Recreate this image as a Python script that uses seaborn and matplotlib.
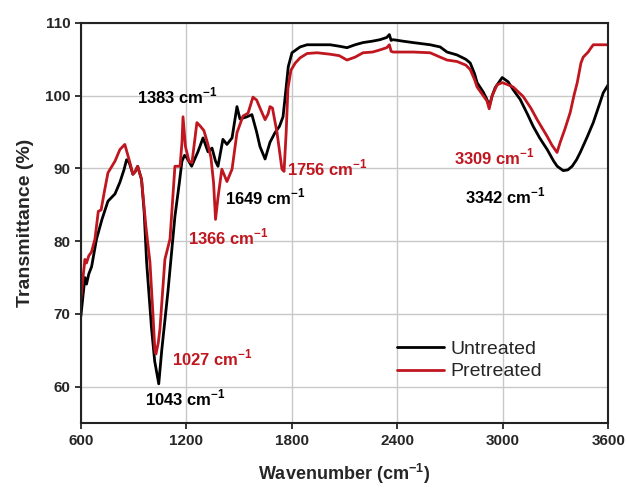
import matplotlib
matplotlib.use("Agg")
import matplotlib.pyplot as plt
import seaborn as sns
import pandas as pd

# Untreated spectrum (wavenumber cm-1, transmittance %)
wn_untreated = [600, 612, 623, 632, 645, 661, 689, 720, 754, 794, 822, 845, 860, 875, 896, 910, 923,
                945, 960, 974, 1002, 1020, 1043, 1060, 1095, 1135, 1160, 1175, 1190, 1202, 1230, 1266,
                1295, 1323, 1346, 1366, 1380, 1408, 1431, 1460, 1488, 1505, 1545, 1573, 1600, 1619,
                1648, 1676, 1704, 1730, 1750, 1765, 1780, 1801, 1847, 1887, 1944, 2018, 2070, 2114,
                2160, 2205, 2260, 2302, 2340, 2355, 2365, 2376, 2430, 2490, 2587, 2644, 2683, 2740,
                2790, 2815, 2840, 2854, 2889, 2910, 2923, 2940, 2957, 2997, 3031, 3060, 3099, 3140,
                3173, 3210, 3253, 3290, 3310, 3344, 3370, 3395, 3420, 3441, 3480, 3515, 3550, 3572, 3600]
t_untreated = [69.7, 72.5, 75.0, 74.1, 75.5, 76.5, 80.3, 83.0, 85.5, 86.5, 88.1, 89.8, 91.2, 90.8,
               89.2, 89.6, 90.3, 88.5, 84.0, 77.1, 68.0, 63.5, 60.4, 65.0, 73.0, 83.4, 88.0, 91.0,
               91.8, 91.5, 90.3, 92.3, 94.2, 92.3, 92.8, 91.0, 90.3, 94.0, 93.3, 94.2, 98.5, 96.8,
               97.1, 97.4, 95.0, 93.0, 91.3, 93.6, 94.9, 95.8, 97.1, 100.5, 104.0, 105.9, 106.7,
               107.0, 107.0, 107.0, 106.8, 106.6, 107.0, 107.3, 107.5, 107.7, 108.0, 108.4, 107.6,
               107.7, 107.5, 107.3, 107.0, 106.7, 106.0, 105.6, 105.0, 104.5, 103.0, 101.8, 100.5,
               99.5, 98.5, 100.0, 101.1, 102.5, 101.9, 100.8, 99.5, 97.5, 95.8, 94.2, 92.6, 91.0,
               90.3, 89.7, 89.8, 90.3, 91.2, 92.2, 94.3, 96.3, 98.8, 100.4, 101.5]

# Pretreated spectrum
wn_pretreated = [600, 610, 623, 632, 645, 660, 680, 699, 715, 735, 754, 794, 822, 850, 865, 879, 896,
                 910, 923, 945, 970, 993, 1010, 1021, 1027, 1040, 1050, 1078, 1107, 1135, 1164, 1175,
                 1181, 1195, 1215, 1232, 1260, 1280, 1300, 1323, 1340, 1355, 1366, 1380, 1402, 1431,
                 1460, 1488, 1522, 1551, 1579, 1600, 1619, 1648, 1665, 1676, 1690, 1716, 1744, 1756,
                 1768, 1778, 1795, 1820, 1847, 1887, 1944, 2018, 2070, 2114, 2160, 2205, 2260, 2302,
                 2340, 2355, 2365, 2376, 2430, 2490, 2587, 2644, 2683, 2740, 2790, 2815, 2840, 2854,
                 2889, 2910, 2923, 2940, 2968, 2997, 3030, 3059, 3116, 3160, 3196, 3253, 3280, 3309,
                 3327, 3355, 3384, 3405, 3424, 3445, 3458, 3486, 3500, 3515, 3560, 3600]
t_pretreated = [72.0, 74.5, 77.5, 77.0, 78.0, 78.5, 80.3, 84.1, 84.3, 87.0, 89.4, 91.0, 92.6, 93.3,
                92.0, 90.8, 89.2, 89.6, 90.3, 88.5, 82.0, 77.1, 70.0, 65.0, 64.5, 66.0, 68.0, 77.5,
                80.3, 90.3, 90.3, 93.5, 97.1, 93.0, 91.0, 90.8, 96.3, 95.8, 95.2, 93.3, 91.5, 88.0,
                83.0, 86.0, 89.9, 88.2, 89.9, 94.9, 97.2, 97.6, 99.8, 99.4, 98.3, 96.7, 97.5, 98.5,
                98.3, 94.9, 89.9, 89.6, 95.0, 101.0, 103.5, 104.5, 105.2, 105.8, 105.9, 105.7, 105.5,
                104.9, 105.3, 105.9, 106.0, 106.3, 106.6, 107.0, 106.1, 106.0, 106.0, 106.0, 105.9,
                105.3, 104.9, 104.7, 104.2, 103.6, 102.2, 101.2, 100.0, 99.3, 98.2, 100.0, 101.5,
                101.8, 101.5, 101.2, 99.9, 98.3, 96.7, 94.4, 93.2, 92.2, 93.6, 95.5, 97.7, 100.0,
                101.8, 104.5, 105.3, 106.0, 106.5, 107.0, 107.0, 107.0]

red = "#c0161f"

sns.set_style("ticks")
plt.rcParams["font.family"] = ["Liberation Sans", "DejaVu Sans"]
plt.rcParams["mathtext.fontset"] = "custom"
plt.rcParams["mathtext.rm"] = "Liberation Sans"
plt.rcParams["mathtext.bf"] = "Liberation Sans:bold"

df = pd.concat([
    pd.DataFrame({"wn": wn_untreated, "T": t_untreated, "Sample": "Untreated"}),
    pd.DataFrame({"wn": wn_pretreated, "T": t_pretreated, "Sample": "Pretreated"}),
])

fig, ax = plt.subplots(figsize=(6.27, 4.88), dpi=100)
fig.subplots_adjust(left=0.129, right=0.97, top=0.953, bottom=0.133)

sns.lineplot(data=df, x="wn", y="T", hue="Sample", palette={"Untreated": "black", "Pretreated": red},
             linewidth=2, ax=ax, sort=False)

ax.set_xlim(600, 3600)
ax.set_ylim(55, 110)
ax.set_xticks(range(600, 3601, 600))
ax.set_yticks(range(60, 111, 10))
ax.grid(True, color="#c8c8c8", linewidth=1)
ax.set_axisbelow(True)
for s in ax.spines.values():
    s.set_linewidth(1.5)
    s.set_color("#222222")
ax.tick_params(direction="out", length=4, width=1.3, labelsize=11)
for lbl in ax.get_xticklabels() + ax.get_yticklabels():
    lbl.set_fontweight("bold")

ax.set_xlabel(r"Wavenumber (cm$^{\mathbf{-1}}$)", fontsize=13, fontweight="bold", labelpad=10)
ax.set_ylabel("Transmittance (%)", fontsize=14, fontweight="bold", labelpad=8)

sup = r" cm$^{\mathbf{-1}}$"
annotations = [
    ("1383", 919, 100.0, "black"),
    ("1366", 1209, 80.5, red),
    ("1649", 1420, 86.0, "black"),
    ("1756", 1773, 90.0, red),
    ("3309", 2723, 91.6, red),
    ("3342", 2786, 86.2, "black"),
    ("1027", 1118, 64.0, red),
    ("1043", 964, 58.4, "black"),
]
for label, x, y, c in annotations:
    ax.text(x, y, label + sup, color=c, fontsize=12, fontweight="bold", va="center", ha="left")

ax.legend(loc="center left", bbox_to_anchor=(0.60, 0.157), frameon=False, fontsize=14,
          handlelength=2.4, handletextpad=0.35, labelspacing=0.25, borderpad=0, borderaxespad=0,
          title=None)

fig.savefig("out.png", dpi=100)
